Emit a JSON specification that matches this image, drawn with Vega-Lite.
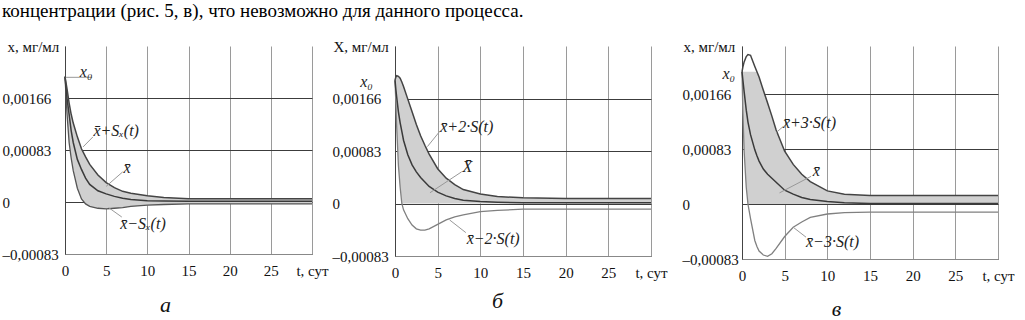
{
"$schema": "https://vega.github.io/schema/vega-lite/v6.json",
"padding": {"left": 2, "top": 2, "right": 0, "bottom": 0},
"background": "white",
"title": {"text": "концентрации (рис. 5, в), что невозможно для данного процесса.", "anchor": "start", "frame": "bounds", "font": "'Liberation Serif', 'Times New Roman', 'DejaVu Serif', serif", "fontSize": 19, "fontWeight": "normal", "color": "#000", "offset": 18},
"config": {
  "view": {"stroke": null},
  "axis": {"labelFont": "'Liberation Serif', 'Times New Roman', 'DejaVu Serif', serif", "labelFontSize": 15, "labelColor": "#111", "titleFont": "'Liberation Serif', 'Times New Roman', 'DejaVu Serif', serif", "titleFontWeight": "normal", "titleColor": "#111", "ticks": false, "labelFlush": false, "labelOverlap": false, "labelBound": false},
  "text": {"font": "'Liberation Serif', 'Times New Roman', 'DejaVu Serif', serif", "fontSize": 16, "fontStyle": "italic", "color": "#222"}
},
"datasets": {
  "a": [
    {"t": 0, "mean": 0.002, "upper": 0.002, "lower": 0.002, "lo": 0.002, "hi": 0.002},
    {"t": 0.25, "mean": 0.00165, "upper": 0.0018, "lower": 0.0014, "lo": 0.0014, "hi": 0.0018},
    {"t": 0.5, "mean": 0.0014, "upper": 0.00158, "lower": 0.00095, "lo": 0.00095, "hi": 0.00158},
    {"t": 0.75, "mean": 0.00114, "upper": 0.0014, "lower": 0.0007, "lo": 0.0007, "hi": 0.0014},
    {"t": 1, "mean": 0.00095, "upper": 0.00126, "lower": 0.0005, "lo": 0.0005, "hi": 0.00126},
    {"t": 1.5, "mean": 0.00068, "upper": 0.00104, "lower": 0.00022, "lo": 0.00022, "hi": 0.00104},
    {"t": 2, "mean": 0.00052, "upper": 0.00085, "lower": 0.00005, "lo": 0.00005, "hi": 0.00085},
    {"t": 2.5, "mean": 0.00038, "upper": 0.00072, "lower": -0.00003, "lo": -0.00003, "hi": 0.00072},
    {"t": 3, "mean": 0.00028, "upper": 0.0006, "lower": -0.00007, "lo": -0.00007, "hi": 0.0006},
    {"t": 4, "mean": 0.00018, "upper": 0.00043, "lower": -0.0001, "lo": -0.0001, "hi": 0.00043},
    {"t": 5, "mean": 0.00013, "upper": 0.00031, "lower": -0.00011, "lo": -0.00011, "hi": 0.00031},
    {"t": 6, "mean": 0.00009, "upper": 0.00023, "lower": -0.0001, "lo": -0.0001, "hi": 0.00023},
    {"t": 7, "mean": 0.00006, "upper": 0.00017, "lower": -0.00009, "lo": -0.00009, "hi": 0.00017},
    {"t": 8, "mean": 0.00004, "upper": 0.00014, "lower": -0.00007, "lo": -0.00007, "hi": 0.00014},
    {"t": 10, "mean": 0.00002, "upper": 0.0001, "lower": -0.00005, "lo": -0.00005, "hi": 0.0001},
    {"t": 12, "mean": 0.000015, "upper": 0.00007, "lower": -0.00004, "lo": -0.00004, "hi": 0.00007},
    {"t": 15, "mean": 0.00001, "upper": 0.00005, "lower": -0.00003, "lo": -0.00003, "hi": 0.00005},
    {"t": 20, "mean": 0.00001, "upper": 0.00005, "lower": -0.00003, "lo": -0.00003, "hi": 0.00005},
    {"t": 30, "mean": 0.00001, "upper": 0.00005, "lower": -0.00003, "lo": -0.00003, "hi": 0.00005}
  ],
  "b": [
    {"t": 0, "mean": 0.00195, "upper": 0.00195, "lower": 0.00195, "lo": 0.00195, "hi": 0.00195},
    {"t": 0.1, "mean": 0.0018, "upper": 0.002, "lower": 0.0016, "lo": 0.0016, "hi": 0.002},
    {"t": 0.2, "mean": 0.00168, "upper": 0.00202, "lower": 0.0012, "lo": 0.0012, "hi": 0.00202},
    {"t": 0.4, "mean": 0.00145, "upper": 0.00201, "lower": 0.0006, "lo": 0.0006, "hi": 0.00201},
    {"t": 0.6, "mean": 0.00128, "upper": 0.00198, "lower": 0.00026, "lo": 0.00026, "hi": 0.00198},
    {"t": 0.8, "mean": 0.00114, "upper": 0.00192, "lower": 0, "lo": 0, "hi": 0.00192},
    {"t": 1, "mean": 0.001, "upper": 0.00185, "lower": -0.0001, "lo": 0, "hi": 0.00185},
    {"t": 1.5, "mean": 0.00077, "upper": 0.00165, "lower": -0.00024, "lo": 0, "hi": 0.00165},
    {"t": 2, "mean": 0.00061, "upper": 0.00145, "lower": -0.00034, "lo": 0, "hi": 0.00145},
    {"t": 2.5, "mean": 0.0005, "upper": 0.00125, "lower": -0.0004, "lo": 0, "hi": 0.00125},
    {"t": 3, "mean": 0.00041, "upper": 0.00107, "lower": -0.00042, "lo": 0, "hi": 0.00107},
    {"t": 3.5, "mean": 0.00034, "upper": 0.00092, "lower": -0.00042, "lo": 0, "hi": 0.00092},
    {"t": 4, "mean": 0.00027, "upper": 0.00078, "lower": -0.0004, "lo": 0, "hi": 0.00078},
    {"t": 5, "mean": 0.00018, "upper": 0.00055, "lower": -0.00033, "lo": 0, "hi": 0.00055},
    {"t": 6, "mean": 0.00012, "upper": 0.0004, "lower": -0.00026, "lo": 0, "hi": 0.0004},
    {"t": 7, "mean": 0.00008, "upper": 0.0003, "lower": -0.00021, "lo": 0, "hi": 0.0003},
    {"t": 8, "mean": 0.00005, "upper": 0.00022, "lower": -0.00018, "lo": 0, "hi": 0.00022},
    {"t": 10, "mean": 0.00003, "upper": 0.00015, "lower": -0.00013, "lo": 0, "hi": 0.00015},
    {"t": 12, "mean": 0.00002, "upper": 0.00011, "lower": -0.00011, "lo": 0, "hi": 0.00011},
    {"t": 15, "mean": 0.00001, "upper": 0.00009, "lower": -0.00009, "lo": 0, "hi": 0.00009},
    {"t": 20, "mean": 0.00001, "upper": 0.00008, "lower": -0.00009, "lo": 0, "hi": 0.00008},
    {"t": 30, "mean": 0.00001, "upper": 0.00008, "lower": -0.00009, "lo": 0, "hi": 0.00008}
  ],
  "c": [
    {"t": 0, "mean": 0.002, "upper": 0.002, "lower": 0.002, "lo": 0.002, "hi": 0.002},
    {"t": 0.1, "mean": 0.00188, "upper": 0.00207, "lower": 0.0014, "lo": 0.0014, "hi": 0.002},
    {"t": 0.25, "mean": 0.0017, "upper": 0.00215, "lower": 0.0008, "lo": 0.0008, "hi": 0.002},
    {"t": 0.5, "mean": 0.00142, "upper": 0.00223, "lower": 0.00025, "lo": 0.00025, "hi": 0.002},
    {"t": 0.7, "mean": 0.00124, "upper": 0.00226, "lower": 0, "lo": 0, "hi": 0.002},
    {"t": 1, "mean": 0.00105, "upper": 0.00225, "lower": -0.00022, "lo": 0, "hi": 0.002},
    {"t": 1.5, "mean": 0.00082, "upper": 0.00208, "lower": -0.00055, "lo": 0, "hi": 0.002},
    {"t": 1.75, "mean": 0.00073, "upper": 0.002, "lower": -0.00064, "lo": 0, "hi": 0.002},
    {"t": 2, "mean": 0.00065, "upper": 0.00192, "lower": -0.00071, "lo": 0, "hi": 0.00192},
    {"t": 2.5, "mean": 0.00053, "upper": 0.00172, "lower": -0.00077, "lo": 0, "hi": 0.00172},
    {"t": 3, "mean": 0.00045, "upper": 0.00153, "lower": -0.00079, "lo": 0, "hi": 0.00153},
    {"t": 3.5, "mean": 0.00039, "upper": 0.00133, "lower": -0.00075, "lo": 0, "hi": 0.00133},
    {"t": 4, "mean": 0.00033, "upper": 0.00112, "lower": -0.00067, "lo": 0, "hi": 0.00112},
    {"t": 5, "mean": 0.00021, "upper": 0.0008, "lower": -0.00049, "lo": 0, "hi": 0.0008},
    {"t": 6, "mean": 0.00015, "upper": 0.0006, "lower": -0.00035, "lo": 0, "hi": 0.0006},
    {"t": 7, "mean": 0.0001, "upper": 0.00045, "lower": -0.00027, "lo": 0, "hi": 0.00045},
    {"t": 8, "mean": 0.00007, "upper": 0.00034, "lower": -0.0002, "lo": 0, "hi": 0.00034},
    {"t": 10, "mean": 0.00004, "upper": 0.0002, "lower": -0.00015, "lo": 0, "hi": 0.0002},
    {"t": 12, "mean": 0.00002, "upper": 0.00015, "lower": -0.00013, "lo": 0, "hi": 0.00015},
    {"t": 15, "mean": 0.00001, "upper": 0.00013, "lower": -0.00012, "lo": 0, "hi": 0.00013},
    {"t": 20, "mean": 0.00001, "upper": 0.00013, "lower": -0.00012, "lo": 0, "hi": 0.00013},
    {"t": 30, "mean": 0.00001, "upper": 0.00013, "lower": -0.00012, "lo": 0, "hi": 0.00013}
  ],
  "leaders": [
    {"panel": "a", "t1": 0.1, "v1": 0.00199, "t2": 3.3, "v2": 0.00199},
    {"panel": "a", "t1": 2.2, "v1": 0.00088, "t2": 3.4, "v2": 0.00104},
    {"panel": "a", "t1": 5.0, "v1": 0.00025, "t2": 7.0, "v2": 0.00048},
    {"panel": "a", "t1": 5.3, "v1": -0.00009, "t2": 6.9, "v2": -0.00024},
    {"panel": "b", "t1": 3.8, "v1": 0.0009, "t2": 5.3, "v2": 0.00115},
    {"panel": "b", "t1": 4.1, "v1": 0.00017, "t2": 7.8, "v2": 0.0005},
    {"panel": "b", "t1": 6.4, "v1": -0.00026, "t2": 8.3, "v2": -0.00046},
    {"panel": "c", "t1": 4.0, "v1": 0.00108, "t2": 4.8, "v2": 0.00117},
    {"panel": "c", "t1": 4.4, "v1": 0.00017, "t2": 8.1, "v2": 0.00042},
    {"panel": "c", "t1": 6.1, "v1": -0.00036, "t2": 7.5, "v2": -0.0005}
  ],
  "labels": [
    {"panel": "a", "t": 1.8, "v": 0.00207, "text": "x₀"},
    {"panel": "a", "t": 3.45, "v": 0.00114, "text": "x̄+Sₓ(t)"},
    {"panel": "a", "t": 7.1, "v": 0.00054, "text": "x̄"},
    {"panel": "a", "t": 6.7, "v": -0.00035, "text": "x̄−Sₓ(t)"},
    {"panel": "b", "t": 5.3, "v": 0.00121, "text": "x̄+2·S(t)"},
    {"panel": "b", "t": 7.9, "v": 0.00057, "text": "X̄"},
    {"panel": "b", "t": 8.4, "v": -0.00056, "text": "x̄−2·S(t)"},
    {"panel": "c", "t": 4.8, "v": 0.00123, "text": "x̄+3·S(t)"},
    {"panel": "c", "t": 8.3, "v": 0.0005, "text": "x̄"},
    {"panel": "c", "t": 7.5, "v": -0.00058, "text": "x̄−3·S(t)"}
  ],
  "x0labels": [
    {"panel": "b", "t": -2.6, "v": 0.00192, "text": "x₀"},
    {"panel": "c", "t": -0.8, "v": 0.00197, "text": "x₀"}
  ]
},
"spacing": 3,
"hconcat": [
  {
    "width": 247, "height": 208,
    "layer": [
      {"data": {"name": "a"}, "mark": {"type": "area", "color": "#d0d0d0", "opacity": 1},
       "encoding": {
         "x": {"field": "t", "type": "quantitative", "scale": {"domain": [0, 30], "nice": false, "zero": false},
               "axis": {"values": [0, 5, 10, 15, 20, 25, 30], "labelExpr": "datum.value == 30 ? 't, сут' : datum.label", "grid": true, "gridColor": "#9a9a9a", "domainColor": "#888", "labelPadding": 9,
                        "title": "а", "titleFontStyle": "italic", "titleFontSize": 22, "titleX": 100, "titleY": 50, "titleBaseline": "middle", "titleColor": "#111"}},
         "y": {"field": "lo", "type": "quantitative", "scale": {"domain": [-0.00083, 0.00249], "nice": false, "zero": false},
               "axis": {"values": [-0.00083, 0, 0.00083, 0.00166], "labelExpr": "datum.value > 0.0015 ? '0,00166' : datum.value > 0.0005 ? '0,00083' : datum.value < -0.0005 ? '–0,00083' : '0'", "labelAlign": "left", "labelPadding": 63, "grid": true, "gridColor": "#3c3c3c", "domainColor": "#444",
                        "title": "x, мг/мл", "titleAngle": 0, "titleAlign": "left", "titleBaseline": "middle", "titleX": -58, "titleY": 0, "titleFontSize": 15}},
         "y2": {"field": "hi"}
       }},
      {"data": {"name": "a"}, "mark": {"type": "line", "color": "#555", "strokeWidth": 1.3}, "encoding": {"x": {"field": "t", "type": "quantitative"}, "y": {"field": "lower", "type": "quantitative"}}},
      {"data": {"name": "a"}, "mark": {"type": "line", "color": "#3a3a3a", "strokeWidth": 1.5}, "encoding": {"x": {"field": "t", "type": "quantitative"}, "y": {"field": "mean", "type": "quantitative"}}},
      {"data": {"name": "a"}, "mark": {"type": "line", "color": "#444", "strokeWidth": 1.5}, "encoding": {"x": {"field": "t", "type": "quantitative"}, "y": {"field": "upper", "type": "quantitative"}}},
      {"data": {"name": "leaders"}, "transform": [{"filter": "datum.panel == 'a'"}], "mark": {"type": "rule", "color": "#999", "strokeWidth": 1},
       "encoding": {"x": {"field": "t1", "type": "quantitative"}, "x2": {"field": "t2"}, "y": {"field": "v1", "type": "quantitative"}, "y2": {"field": "v2"}}},
      {"data": {"name": "labels"}, "transform": [{"filter": "datum.panel == 'a'"}], "mark": {"type": "text", "align": "left", "baseline": "middle"},
       "encoding": {"x": {"field": "t", "type": "quantitative"}, "y": {"field": "v", "type": "quantitative"}, "text": {"field": "text"}}}
    ]
  },
  {
    "spacing": 14,
    "hconcat": [
      {
        "width": 256, "height": 210,
        "layer": [
          {"data": {"name": "b"}, "mark": {"type": "area", "color": "#d0d0d0", "opacity": 1},
           "encoding": {
             "x": {"field": "t", "type": "quantitative", "scale": {"domain": [0, 30], "nice": false, "zero": false},
                   "axis": {"values": [0, 5, 10, 15, 20, 25, 30], "labelExpr": "datum.value == 30 ? 't, сут' : datum.label", "grid": true, "gridColor": "#9a9a9a", "domainColor": "#888", "labelPadding": 9,
                            "title": "б", "titleFontStyle": "italic", "titleFontSize": 22, "titleX": 102, "titleY": 44, "titleBaseline": "middle", "titleColor": "#111"}},
             "y": {"field": "lo", "type": "quantitative", "scale": {"domain": [-0.00083, 0.00249], "nice": false, "zero": false},
                   "axis": {"values": [-0.00083, 0, 0.00083, 0.00166], "labelExpr": "datum.value > 0.0015 ? '0,00166' : datum.value > 0.0005 ? '0,00083' : datum.value < -0.0005 ? '–0,00083' : '0'", "labelAlign": "left", "labelPadding": 63, "grid": true, "gridColor": "#3c3c3c", "domainColor": "#444",
                            "title": "X, мг/мл", "titleAngle": 0, "titleAlign": "left", "titleBaseline": "middle", "titleX": -62, "titleY": 0, "titleFontSize": 15}},
             "y2": {"field": "hi"}
           }},
          {"data": {"name": "b"}, "mark": {"type": "line", "color": "#808080", "strokeWidth": 1.3}, "encoding": {"x": {"field": "t", "type": "quantitative"}, "y": {"field": "lower", "type": "quantitative"}}},
          {"data": {"name": "b"}, "mark": {"type": "line", "color": "#3a3a3a", "strokeWidth": 1.5}, "encoding": {"x": {"field": "t", "type": "quantitative"}, "y": {"field": "mean", "type": "quantitative"}}},
          {"data": {"name": "b"}, "mark": {"type": "line", "color": "#444", "strokeWidth": 1.5}, "encoding": {"x": {"field": "t", "type": "quantitative"}, "y": {"field": "upper", "type": "quantitative"}}},
          {"data": {"name": "leaders"}, "transform": [{"filter": "datum.panel == 'b'"}], "mark": {"type": "rule", "color": "#999", "strokeWidth": 1},
           "encoding": {"x": {"field": "t1", "type": "quantitative"}, "x2": {"field": "t2"}, "y": {"field": "v1", "type": "quantitative"}, "y2": {"field": "v2"}}},
          {"data": {"name": "labels"}, "transform": [{"filter": "datum.panel == 'b'"}], "mark": {"type": "text", "align": "left", "baseline": "middle"},
           "encoding": {"x": {"field": "t", "type": "quantitative"}, "y": {"field": "v", "type": "quantitative"}, "text": {"field": "text"}}},
          {"data": {"name": "x0labels"}, "transform": [{"filter": "datum.panel == 'b'"}], "mark": {"type": "text", "align": "right", "baseline": "middle"},
           "encoding": {"x": {"field": "t", "type": "quantitative"}, "y": {"field": "v", "type": "quantitative"}, "text": {"field": "text"}}}
        ]
      },
      {
        "width": 256, "height": 213,
        "layer": [
          {"data": {"name": "c"}, "mark": {"type": "area", "color": "#d0d0d0", "opacity": 1},
           "encoding": {
             "x": {"field": "t", "type": "quantitative", "scale": {"domain": [0, 30], "nice": false, "zero": false},
                   "axis": {"values": [0, 5, 10, 15, 20, 25, 30], "labelExpr": "datum.value == 30 ? 't, сут' : datum.label", "grid": true, "gridColor": "#9a9a9a", "domainColor": "#888", "labelPadding": 9,
                            "title": "в", "titleFontStyle": "italic", "titleFontSize": 22, "titleX": 94, "titleY": 49, "titleBaseline": "middle", "titleColor": "#111"}},
             "y": {"field": "lo", "type": "quantitative", "scale": {"domain": [-0.00083, 0.00239], "nice": false, "zero": false},
                   "axis": {"values": [-0.00083, 0, 0.00083, 0.00166], "labelExpr": "datum.value > 0.0015 ? '0,00166' : datum.value > 0.0005 ? '0,00083' : datum.value < -0.0005 ? '–0,00083' : '0'", "labelAlign": "left", "labelPadding": 60, "grid": true, "gridColor": "#3c3c3c", "domainColor": "#444",
                            "title": "x, мг/мл", "titleAngle": 0, "titleAlign": "left", "titleBaseline": "middle", "titleX": -59, "titleY": 0, "titleFontSize": 15}},
             "y2": {"field": "hi"}
           }},
          {"data": {"name": "c"}, "mark": {"type": "line", "color": "#808080", "strokeWidth": 1.3}, "encoding": {"x": {"field": "t", "type": "quantitative"}, "y": {"field": "lower", "type": "quantitative"}}},
          {"data": {"name": "c"}, "mark": {"type": "line", "color": "#3a3a3a", "strokeWidth": 1.5}, "encoding": {"x": {"field": "t", "type": "quantitative"}, "y": {"field": "mean", "type": "quantitative"}}},
          {"data": {"name": "c"}, "mark": {"type": "line", "color": "#444", "strokeWidth": 1.5}, "encoding": {"x": {"field": "t", "type": "quantitative"}, "y": {"field": "upper", "type": "quantitative"}}},
          {"data": {"name": "leaders"}, "transform": [{"filter": "datum.panel == 'c'"}], "mark": {"type": "rule", "color": "#999", "strokeWidth": 1},
           "encoding": {"x": {"field": "t1", "type": "quantitative"}, "x2": {"field": "t2"}, "y": {"field": "v1", "type": "quantitative"}, "y2": {"field": "v2"}}},
          {"data": {"name": "labels"}, "transform": [{"filter": "datum.panel == 'c'"}], "mark": {"type": "text", "align": "left", "baseline": "middle"},
           "encoding": {"x": {"field": "t", "type": "quantitative"}, "y": {"field": "v", "type": "quantitative"}, "text": {"field": "text"}}},
          {"data": {"name": "x0labels"}, "transform": [{"filter": "datum.panel == 'c'"}], "mark": {"type": "text", "align": "right", "baseline": "middle"},
           "encoding": {"x": {"field": "t", "type": "quantitative"}, "y": {"field": "v", "type": "quantitative"}, "text": {"field": "text"}}}
        ]
      }
    ]
  }
]
}
